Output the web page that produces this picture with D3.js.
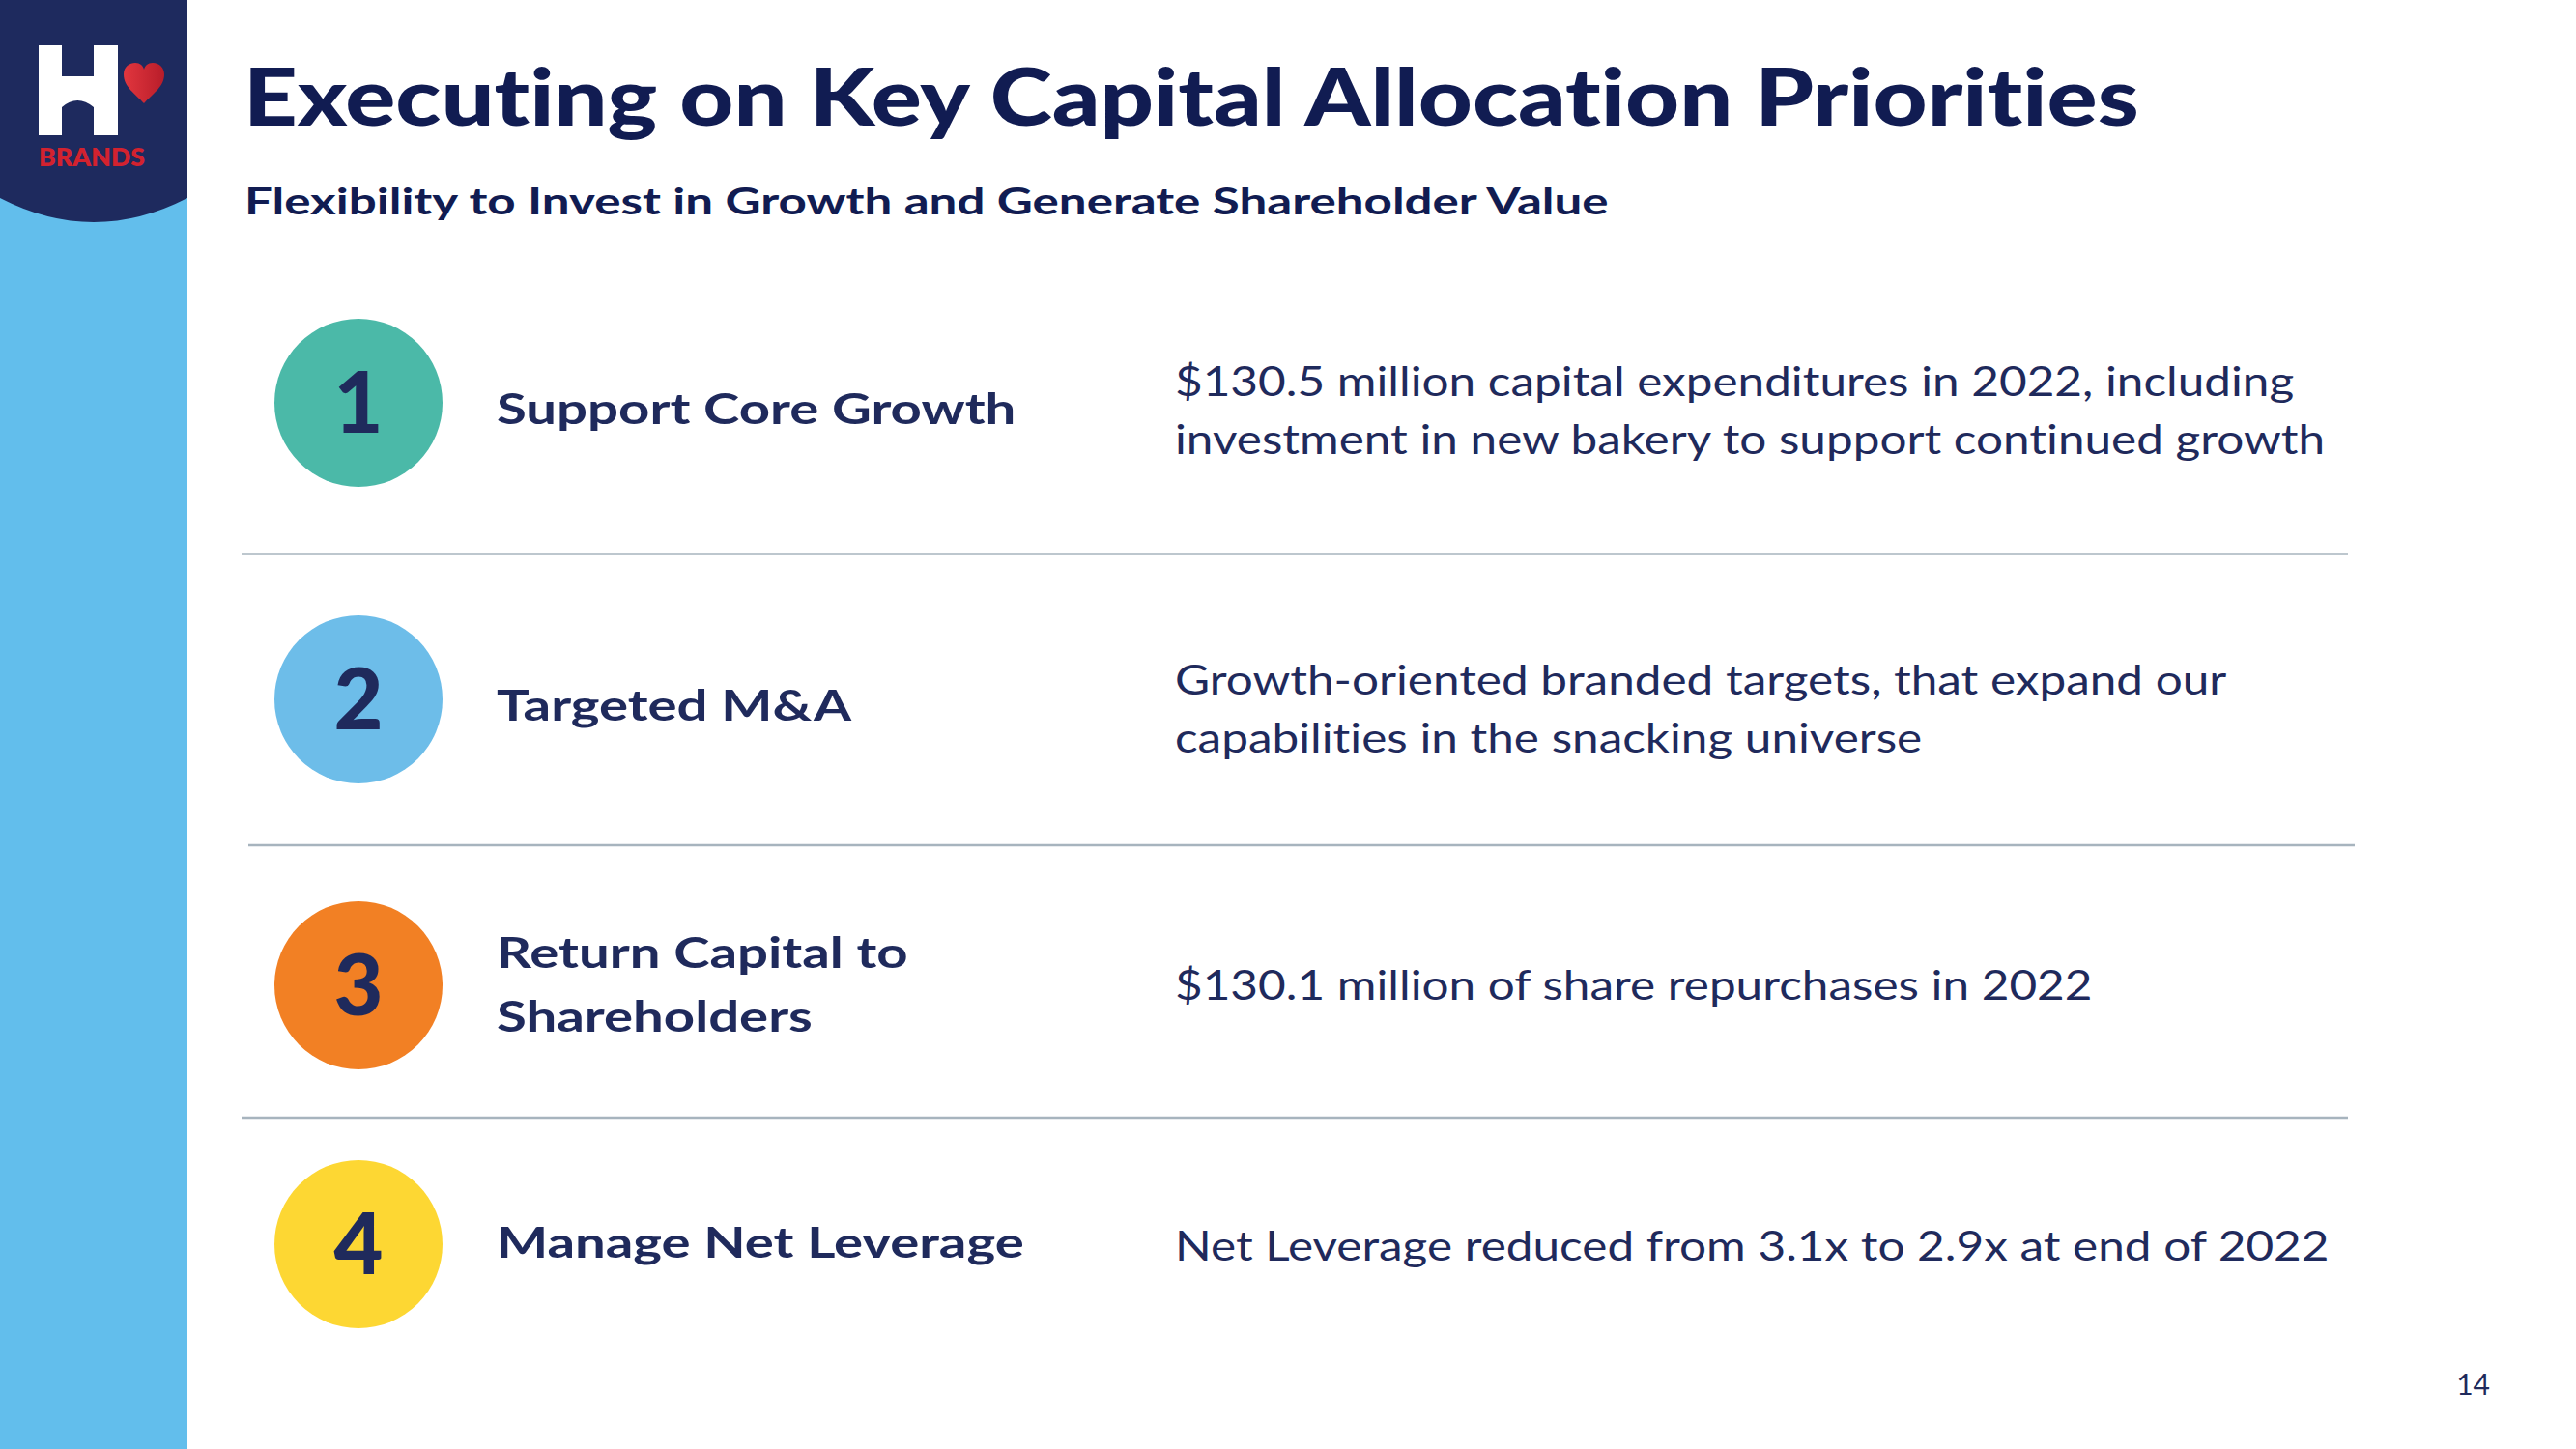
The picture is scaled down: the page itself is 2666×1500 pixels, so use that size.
<!DOCTYPE html>
<html>
<head>
<meta charset="utf-8">
<script src="https://cdn.jsdelivr.net/npm/d3@7"></script>
<style>
  html, body { margin: 0; padding: 0; background: #ffffff; }
  svg { display: block; }
  text { font-variant-ligatures: none; font-feature-settings: "liga" 0; }
</style>
</head>
<body>
<script>
// ---------- data ----------
const numbers = ["1", "2", "3", "4"];
const priorities = [
  ["Support Core Growth"],
  ["Targeted M&A"],
  ["Return Capital to", "Shareholders"],
  ["Manage Net Leverage"]
];
const descriptions = [
  ["$130.5 million capital expenditures in 2022, including", "investment in new bakery to support continued growth"],
  ["Growth-oriented branded targets, that expand our", "capabilities in the snacking universe"],
  ["$130.1 million of share repurchases in 2022"],
  ["Net Leverage reduced from 3.1x to 2.9x at end of 2022"]
];
const circleColors = ["#4BB9A8", "#6DBDE9", "#F28024", "#FDD733"];
const titleText = "Executing on Key Capital Allocation Priorities";
const subtitleText = "Flexibility to Invest in Growth and Generate Shareholder Value";
const pageNumber = "14";

// ---------- layout ----------
const W = 2666, H = 1500;
const navy = "#1F2A5C", titleNavy = "#111C52";
const FONT = "Lato, 'Open Sans', sans-serif";
const rowCenters = [417, 724, 1020, 1288];
const labelShift = [7, 7, 0, -1];
const descShift = [8, 10, 0, 2];
const sepShiftX = [0, 7, 0];

const svg = d3.select("body").append("svg").attr("width", W).attr("height", H);

// text helper: horizontally stretched text (mimics a wider typeface)
function addText(parent, x, y, str, opts) {
  const t = parent.append("text")
    .attr("font-family", FONT)
    .attr("font-weight", opts.weight || 400)
    .attr("font-size", opts.size)
    .attr("fill", opts.fill || navy)
    .attr("text-anchor", opts.anchor || "start")
    .text(str);
  let sx = opts.sx || 1;
  if (opts.width) {
    const w = t.node().getComputedTextLength();
    sx = opts.width / w;
  }
  t.attr("transform", `translate(${x},${y}) scale(${sx},1)`);
  return t;
}

// left stripe
svg.append("rect").attr("x", 0).attr("y", 0).attr("width", 194).attr("height", H).attr("fill", "#62BEEC");
// logo shield
svg.append("path").attr("d", "M0,0 H194 V205 Q97,255 0,205 Z").attr("fill", "#1E2A5E");
// H letter
svg.append("path")
  .attr("d", "M40,47 H64 V79 H97 V47 H122 V140 H97 V111 Q80,97 64,111 V140 H40 Z")
  .attr("fill", "#ffffff");
// heart
const defs = svg.append("defs");
const hg = defs.append("linearGradient").attr("id", "hg").attr("x1", "0").attr("x2", "1");
hg.append("stop").attr("offset", "0").attr("stop-color", "#E2363E");
hg.append("stop").attr("offset", "1").attr("stop-color", "#B81D2A");
svg.append("path")
  .attr("d", "M149,107 C140,97 128,90 128,77 C128,69 134,65 140,65 C145,65 148,68 149,72 C150,68 153,65 158,65 C165,65 170,70 170,77 C170,90 158,97 149,107 Z")
  .attr("fill", "url(#hg)");
addText(svg, 40, 172, "BRANDS", { weight: 800, size: 26, fill: "#D3222F", width: 110 });

// title & subtitle
addText(svg, 252, 130, titleText, { weight: 900, size: 81, fill: titleNavy, width: 1962 });
addText(svg, 253, 222, subtitleText, { weight: 700, size: 38, fill: titleNavy, width: 1412 });

// row scale
const rows = d3.range(numbers.length);
const rowY = d3.scaleOrdinal().domain(rows).range(rowCenters);

// separators between rows
const seps = rows.slice(1).map(i => ({ y: (rowY(i - 1) + rowY(i)) / 2 + 3, dx: sepShiftX[i - 1] }));
svg.selectAll("line.sep").data(seps).join("line").attr("class", "sep")
  .attr("x1", d => 250 + d.dx).attr("x2", d => 2430 + d.dx)
  .attr("y1", d => d.y).attr("y2", d => d.y)
  .attr("stroke", "#A7B4BE").attr("stroke-width", 2.5);

const g = svg.selectAll("g.row").data(rows).join("g").attr("class", "row")
  .attr("transform", i => `translate(0,${rowY(i)})`);

g.append("circle").attr("cx", 371).attr("cy", 0).attr("r", 87)
  .attr("fill", i => circleColors[i]);
g.append("text").attr("x", 371).attr("y", 31)
  .attr("text-anchor", "middle")
  .attr("font-family", FONT).attr("font-weight", 900).attr("font-size", 88)
  .attr("fill", navy).text(i => numbers[i]);

const labelLH = 66, descLH = 60;
g.each(function(i) {
  const sel = d3.select(this);
  const lab = priorities[i];
  const l0 = -((lab.length - 1) * labelLH) / 2 + 15 + labelShift[i];
  lab.forEach((t, k) => {
    addText(sel, 514, l0 + k * labelLH, t, { weight: 700, size: 44, sx: 1.28 });
  });
  const desc = descriptions[i];
  const d0 = -((desc.length - 1) * descLH) / 2 + 15 + descShift[i];
  desc.forEach((t, k) => {
    addText(sel, 1216, d0 + k * descLH, t, { weight: 400, size: 42, sx: 1.178 });
  });
});

// page number
svg.append("text").attr("x", 2577).attr("y", 1444).attr("text-anchor", "end")
  .attr("font-family", FONT).attr("font-size", 30).attr("fill", navy).text(pageNumber);
</script>
</body>
</html>
